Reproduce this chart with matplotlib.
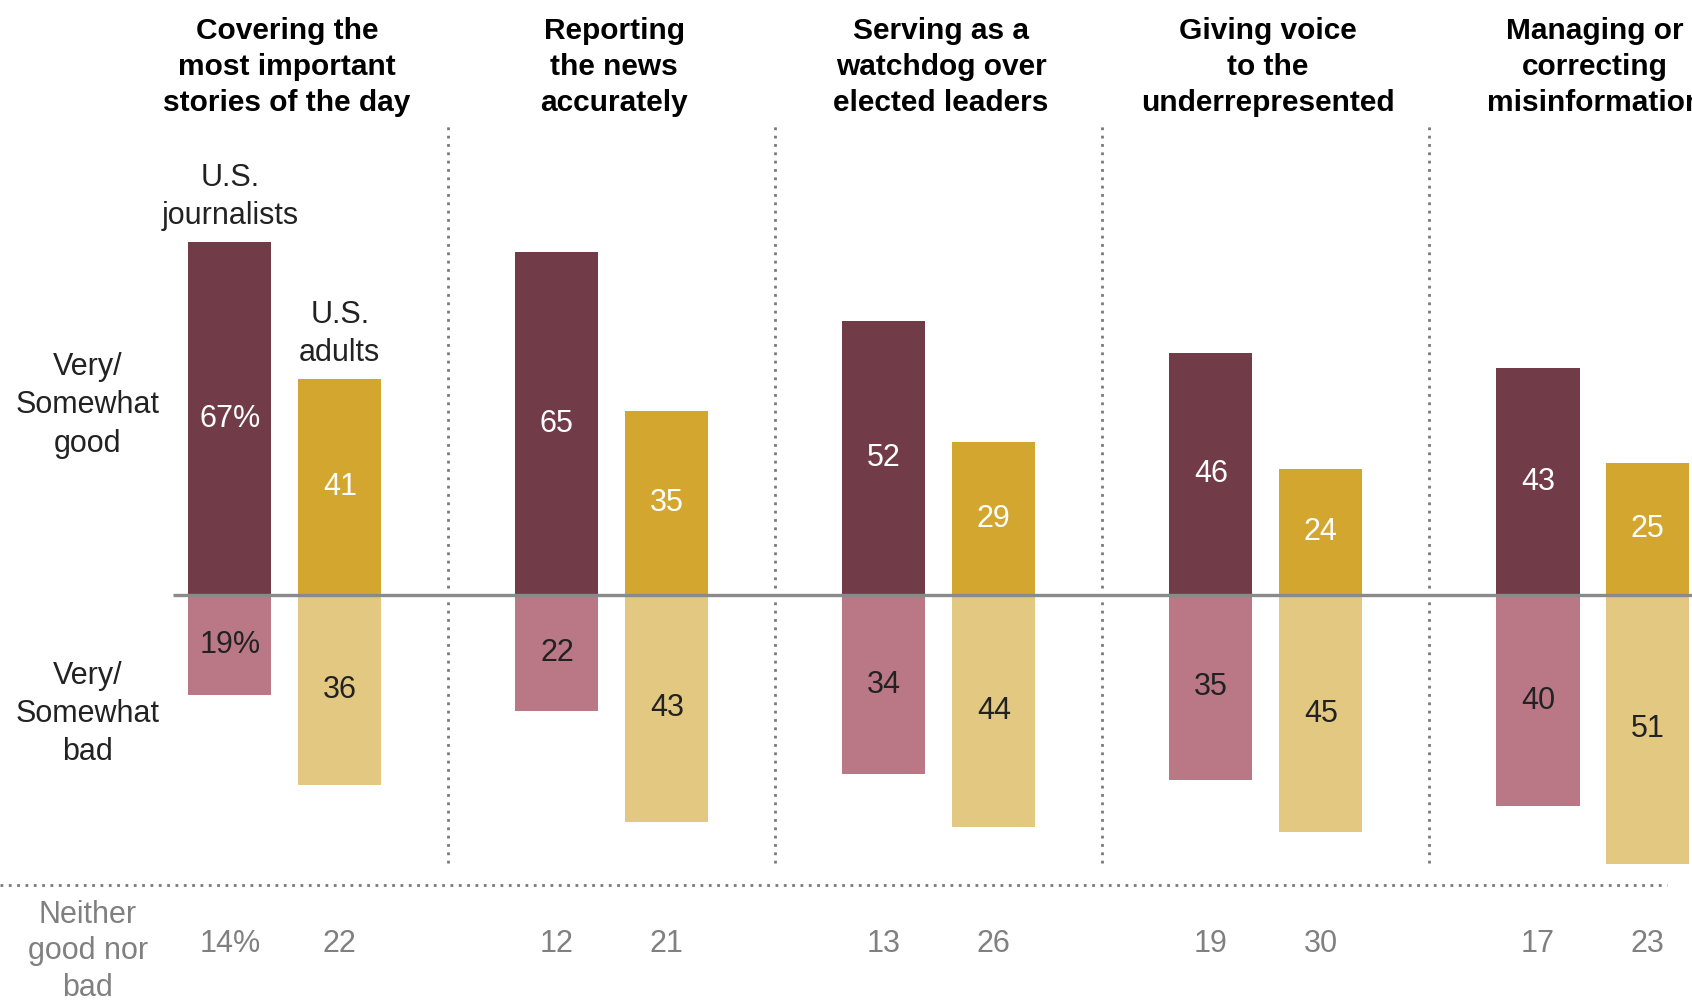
import matplotlib
matplotlib.use("Agg")
import matplotlib.pyplot as plt
import numpy as np

plt.rcParams['font.family'] = ['Liberation Sans', 'DejaVu Sans']

tasks = [
    "Covering the\nmost important\nstories of the day",
    "Reporting\nthe news\naccurately",
    "Serving as a\nwatchdog over\nelected leaders",
    "Giving voice\nto the\nunderrepresented",
    "Managing or\ncorrecting\nmisinformation",
]
journalists_good = [67, 65, 52, 46, 43]
adults_good = [41, 35, 29, 24, 25]
journalists_bad = [19, 22, 34, 35, 40]
adults_bad = [36, 43, 44, 45, 51]
journalists_neither = [14, 12, 13, 19, 17]
adults_neither = [22, 21, 26, 30, 23]

row_labels = ["Very/\nSomewhat\ngood", "Very/\nSomewhat\nbad", "Neither\ngood nor\nbad"]

MAROON = "#723B48"
GOLD = "#D3A72F"
PINK = "#BA7886"
LIGHTGOLD = "#E2C880"
GRAY = "#7a7a7a"

fig = plt.figure(figsize=(16.92, 10.02), dpi=100)
ax = fig.add_axes([0, 0, 1, 1])
ax.set_xlim(-0.703, 4.471)
ax.set_ylim(-77.2, 112.9)
ax.axis("off")

x = np.arange(len(tasks))
offset = 0.336
width = 0.254

ax.bar(x, journalists_good, width, color=MAROON, zorder=2)
ax.bar(x + offset, adults_good, width, color=GOLD, zorder=2)
ax.bar(x, [-v for v in journalists_bad], width, color=PINK, zorder=2)
ax.bar(x + offset, [-v for v in adults_bad], width, color=LIGHTGOLD, zorder=2)

# baseline
ax.plot([-0.174, 4.6], [0, 0], color="#8a8a8a", lw=2.4, zorder=3, solid_capstyle="butt")

# dotted dividers
for i in range(len(tasks) - 1):
    ax.plot([i + 0.667, i + 0.667], [-50.9, 89.4], color=GRAY,
            lw=2.0, ls=(0, (1, 2)), zorder=1)
ax.plot([-0.703, 4.394], [-55.0, -55.0], color=GRAY, lw=2.0, ls=(0, (1, 2)), zorder=1)

fs = 22
ls = 1.36
for i in range(len(tasks)):
    sfx = "%" if i == 0 else ""
    ax.text(x[i], journalists_good[i] / 2, f"{journalists_good[i]}{sfx}",
            ha="center", va="center", color="white", fontsize=fs, zorder=4)
    ax.text(x[i] + offset, adults_good[i] / 2, f"{adults_good[i]}",
            ha="center", va="center", color="white", fontsize=fs, zorder=4)
    ax.text(x[i], -journalists_bad[i] / 2, f"{journalists_bad[i]}{sfx}",
            ha="center", va="center", color="#222222", fontsize=fs, zorder=4)
    ax.text(x[i] + offset, -adults_bad[i] / 2, f"{adults_bad[i]}",
            ha="center", va="center", color="#222222", fontsize=fs, zorder=4)
    ax.text(x[i], -66.2, f"{journalists_neither[i]}{sfx}",
            ha="center", va="center", color="#808080", fontsize=fs)
    ax.text(x[i] + offset, -66.2, f"{adults_neither[i]}",
            ha="center", va="center", color="#808080", fontsize=fs)
    ax.text(x[i] + 0.175, 100.2, tasks[i], ha="center", va="center",
            fontsize=21.5, fontweight="bold", color="black", linespacing=1.38)

# series labels
ax.text(x[0], 75.5, "U.S.\njournalists", ha="center", va="center",
        fontsize=fs, color="#222222", linespacing=ls)
ax.text(x[0] + offset, 49.5, "U.S.\nadults", ha="center", va="center",
        fontsize=fs, color="#222222", linespacing=ls)

# row labels
ax.text(-0.434, 36.0, row_labels[0], ha="center", va="center",
        fontsize=fs, color="#222222", linespacing=ls)
ax.text(-0.434, -22.6, row_labels[1], ha="center", va="center",
        fontsize=fs, color="#222222", linespacing=ls)
ax.text(-0.434, -67.6, row_labels[2], ha="center", va="center",
        fontsize=fs, color="#808080", linespacing=1.28)

fig.savefig("out.png", dpi=100)
